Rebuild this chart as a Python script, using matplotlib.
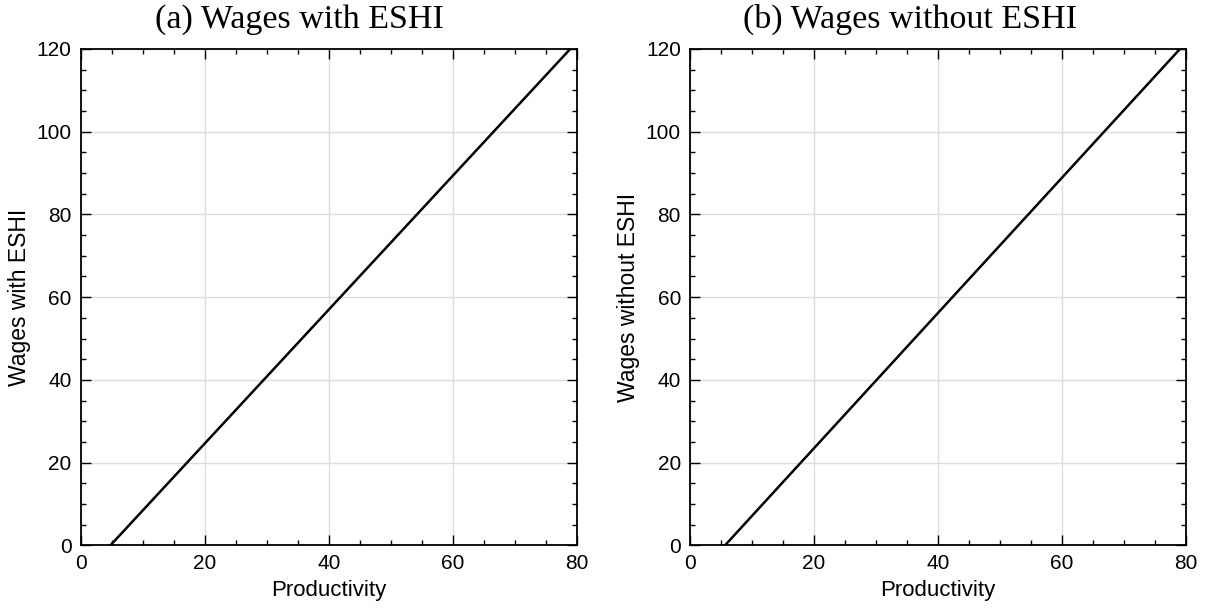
import matplotlib
matplotlib.use("Agg")
import matplotlib.pyplot as plt
from matplotlib.ticker import MultipleLocator

titles = ["(a) Wages with ESHI", "(b) Wages without ESHI"]
ylabels = ["Wages with ESHI", "Wages without ESHI"]
xlabel = "Productivity"
prod_a = [4.8, 80.0]
wage_a = [0.0, 121.7]
prod_b = [5.65, 80.0]
wage_b = [0.0, 121.6]

fig = plt.figure(figsize=(12.06, 6.08), dpi=100)
W, H = 1206, 608
rects = [(80.7, 49, 576.7, 545.3), (690, 49, 1186, 545.3)]
title_cx = [299, 910]
data = [(prod_a, wage_a), (prod_b, wage_b)]
for i, (x0, y0, x1, y1) in enumerate(rects):
    ax = fig.add_axes([x0 / W, 1 - y1 / H, (x1 - x0) / W, (y1 - y0) / H])
    px, wy = data[i]
    ax.plot(px, wy, color="black", lw=1.8)
    ax.set_xlim(0, 80)
    ax.set_ylim(0, 120)
    ax.xaxis.set_major_locator(MultipleLocator(20))
    ax.xaxis.set_minor_locator(MultipleLocator(5))
    ax.yaxis.set_major_locator(MultipleLocator(20))
    ax.yaxis.set_minor_locator(MultipleLocator(5))
    ax.tick_params(which="both", direction="in", top=True, right=True, width=1.0,
                   labelsize=15)
    ax.tick_params(which="major", length=7, pad=6.5)
    ax.tick_params(which="minor", length=3.5)
    for t in ax.get_xticklabels() + ax.get_yticklabels():
        t.set_family("Liberation Sans")
    ax.grid(True, which="major", color="#dddddd", lw=1.0)
    ax.set_axisbelow(True)
    for s in ax.spines.values():
        s.set_linewidth(1.3)
    fig.text(title_cx[i] / W, 1 - 28 / H, titles[i], family="Liberation Serif",
             fontsize=24.5, ha="center", va="baseline")
    ax.set_xlabel(xlabel, family="Liberation Sans", fontsize=16, labelpad=5)
    ax.set_ylabel(ylabels[i], family="Liberation Sans", fontsize=16.5, labelpad=4)

fig.savefig("out.png", dpi=100)
